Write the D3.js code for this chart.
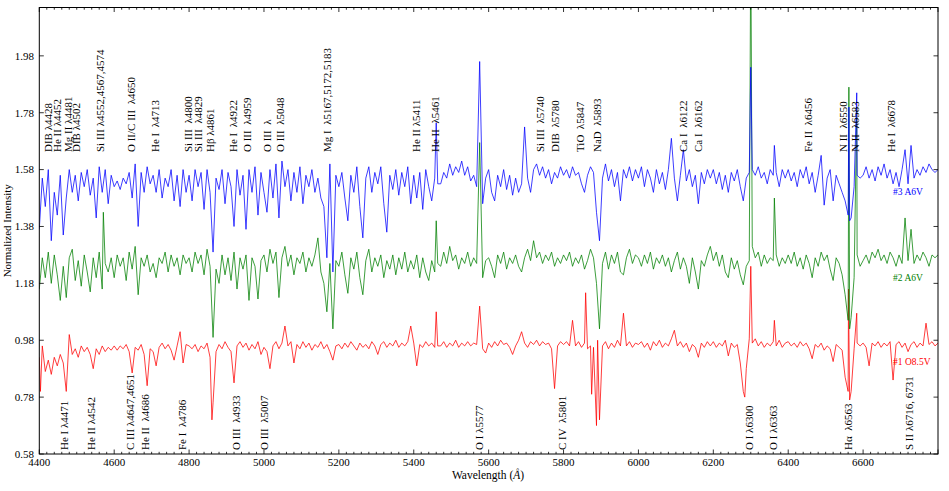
<!DOCTYPE html>
<html>
<head>
<meta charset="UTF-8">
<title>Spectra</title>
<script src="https://d3js.org/d3.v7.min.js"></script>
<style>
  body { margin: 0; background: #fff; }
  text { font-family: "Liberation Serif", "DejaVu Serif", serif; fill: #000; }
  .lbl { font-size: 11px; white-space: pre; }
  .tick { font-size: 11px; }
</style>
</head>
<body>
<svg id="plot" width="949" height="491"></svg>
<script>

// wavelength grid (Angstrom), 8 A sampling
const wavelength = d3.range(4400, 6801, 8);

// #3 A6V (blue)
const blueFlux = [
  1.37,1.55,1.45,1.58,1.33,1.50,1.42,1.56,1.35,1.48,1.58,1.50,1.56,1.47,1.57,1.52,1.58,1.49,1.55,1.41,1.59,1.50,1.58,1.46,1.56,
  1.52,1.54,1.51,1.55,1.53,1.57,1.48,1.60,1.38,1.57,1.50,1.59,1.53,1.56,1.50,1.58,1.48,1.55,1.52,1.58,1.47,1.56,1.45,1.58,1.50,
  1.56,1.47,1.58,1.52,1.57,1.44,1.58,1.50,1.29,1.55,1.51,1.58,1.46,1.57,1.52,1.38,1.58,1.49,1.56,1.37,1.58,1.50,1.59,1.42,1.57,
  1.50,1.43,1.58,1.48,1.60,1.41,1.61,1.52,1.58,1.47,1.57,1.50,1.59,1.46,1.56,1.52,1.58,1.50,1.55,1.48,1.45,1.27,1.60,1.22,1.56,
  1.52,1.57,1.48,1.40,1.56,1.50,1.59,1.45,1.34,1.55,1.59,1.50,1.57,1.53,1.59,1.46,1.36,1.56,1.51,1.58,1.49,1.57,1.52,1.59,1.46,
  1.56,1.48,1.57,1.44,1.58,1.52,1.47,1.55,1.53,1.53,1.57,1.55,1.60,1.56,1.59,1.57,1.61,1.56,1.59,1.54,1.56,1.52,1.96,1.46,1.55,
  1.58,1.50,1.47,1.56,1.52,1.58,1.51,1.56,1.49,1.55,1.50,1.53,1.73,1.55,1.50,1.58,1.60,1.56,1.59,1.55,1.58,1.53,1.57,1.55,1.59,
  1.56,1.58,1.55,1.59,1.56,1.57,1.53,1.50,1.56,1.59,1.57,1.43,1.33,1.55,1.60,1.54,1.58,1.52,1.57,1.47,1.58,1.55,1.59,1.54,1.58,
  1.55,1.59,1.52,1.58,1.55,1.50,1.58,1.53,1.57,1.51,1.58,1.69,1.55,1.47,1.56,1.65,1.54,1.58,1.52,1.56,1.46,1.57,1.53,1.58,1.55,
  1.58,1.53,1.57,1.51,1.56,1.50,1.57,1.54,1.58,1.52,1.47,1.55,1.57,1.58,1.56,1.59,1.55,1.57,1.53,1.58,1.56,1.57,1.52,1.58,1.55,
  1.58,1.54,1.57,1.52,1.58,1.55,1.59,1.53,1.57,1.50,1.56,1.63,1.455,1.55,1.58,1.47,1.56,1.53,1.50,1.47,1.42,1.41,1.52,1.56,1.55,
  1.56,1.59,1.55,1.58,1.54,1.59,1.56,1.60,1.55,1.58,1.53,1.57,1.52,1.58,1.65,1.53,1.665,1.55,1.58,1.56,1.59,1.57,1.60,1.58,1.57,
  1.58
];
// narrow features off the grid [wavelength, flux]
const blueLines = [[5460, 1.745], [6300, 1.94], [6363, 1.665], [6562, 1.80], [6564, 1.40], [6583, 1.85]];

// #2 A6V (green)
const greenFlux = [
  1.16,1.27,1.20,1.29,1.18,1.28,1.21,1.12,1.24,1.13,1.27,1.30,1.19,1.26,1.17,1.28,1.22,1.15,1.27,1.20,1.29,1.16,1.25,1.22,1.27,
  1.20,1.28,1.24,1.27,1.19,1.29,1.23,1.31,1.14,1.27,1.24,1.28,1.22,1.25,1.20,1.27,1.25,1.29,1.22,1.28,1.24,1.27,1.21,1.28,1.25,
  1.27,1.22,1.29,1.25,1.28,1.21,1.30,1.24,0.99,1.23,1.18,1.28,1.21,1.27,1.19,1.29,1.16,1.27,1.23,1.28,1.12,1.27,1.24,1.125,1.26,
  1.28,1.22,1.30,1.25,1.29,1.13,1.27,1.31,1.24,1.28,1.21,1.27,1.25,1.29,1.22,1.27,1.24,1.28,1.34,1.22,1.18,1.08,1.25,1.02,1.26,
  1.24,1.29,1.21,1.145,1.27,1.23,1.29,1.20,1.14,1.26,1.30,1.22,1.27,1.24,1.28,1.20,1.26,1.23,1.28,1.21,1.27,1.23,1.29,1.22,1.26,
  1.23,1.28,1.20,1.27,1.22,1.19,1.26,1.22,1.25,1.24,1.29,1.25,1.31,1.26,1.28,1.23,1.27,1.25,1.29,1.24,1.27,1.25,1.675,1.20,1.26,
  1.27,1.24,1.20,1.28,1.25,1.29,1.23,1.27,1.25,1.28,1.24,1.22,1.27,1.30,1.26,1.33,1.27,1.29,1.25,1.28,1.26,1.29,1.24,1.27,1.25,
  1.28,1.26,1.29,1.24,1.27,1.25,1.28,1.23,1.26,1.30,1.27,1.18,1.02,1.25,1.29,1.23,1.28,1.25,1.29,1.22,1.21,1.27,1.30,1.25,1.28,
  1.27,1.24,1.28,1.25,1.29,1.23,1.27,1.25,1.28,1.24,1.27,1.22,1.26,1.29,1.23,1.27,1.24,1.18,1.27,1.22,1.16,1.26,1.24,1.28,1.31,
  1.26,1.29,1.24,1.28,1.22,1.20,1.27,1.23,1.26,1.21,1.175,1.24,1.26,1.31,1.27,1.29,1.24,1.28,1.25,1.27,1.26,1.28,1.24,1.27,1.25,
  1.28,1.25,1.29,1.24,1.27,1.23,1.28,1.25,1.20,1.27,1.24,1.29,1.26,1.28,1.23,1.19,1.27,1.25,1.21,1.14,1.05,1.06,1.20,1.28,1.24,
  1.26,1.28,1.25,1.29,1.27,1.30,1.26,1.28,1.25,1.29,1.27,1.24,1.28,1.25,1.41,1.26,1.37,1.25,1.28,1.26,1.29,1.27,1.24,1.28,1.27,
  1.28
];
const greenLines = [[4571, 1.43], [5460, 1.40], [6300, 2.40], [6363, 1.48], [6562, 1.87], [6564, 1.02], [6583, 1.80]];

// #1 O8.5V (red)
const redFlux = [
  0.92,0.96,0.87,0.91,0.86,0.92,0.89,0.93,0.90,0.80,1.00,0.93,0.95,0.92,0.96,0.94,0.955,0.93,0.88,0.95,0.93,0.96,0.94,0.955,0.945,
  0.96,0.945,0.96,0.95,0.965,0.94,0.865,0.955,0.945,0.965,0.93,0.82,0.95,0.94,0.89,0.955,0.97,0.95,0.965,0.945,0.91,0.96,1.01,0.90,0.965,
  0.96,0.95,0.965,0.94,0.96,0.95,0.97,0.92,0.76,0.94,0.965,0.95,0.975,0.955,0.94,0.83,0.96,0.975,0.955,0.97,0.945,0.965,0.95,0.975,0.93,
  0.955,0.94,0.88,0.96,0.975,0.95,0.97,1.03,0.96,0.975,0.90,0.965,0.95,0.975,0.955,0.97,0.945,0.965,0.955,0.975,0.95,0.965,0.94,0.91,0.96,
  0.965,0.95,0.97,0.955,0.975,0.96,0.945,0.97,0.955,0.965,0.95,0.975,0.96,0.93,0.965,0.975,0.955,0.97,0.96,0.98,0.955,0.97,0.96,0.975,1.03,
  0.97,0.89,0.965,0.955,0.975,0.96,0.97,0.955,0.96,0.96,0.975,0.955,0.97,0.96,0.98,0.955,0.97,0.96,0.975,0.96,0.97,0.965,1.10,0.95,0.935,
  0.97,0.955,0.975,0.96,0.98,0.965,0.97,0.955,0.93,0.96,0.98,1.01,0.97,0.955,0.975,0.965,0.98,0.96,0.975,0.965,0.97,0.95,0.81,0.96,0.975,
  0.965,0.975,0.96,1.05,0.96,0.975,0.955,0.97,0.95,0.96,0.955,0.68,0.70,0.96,0.975,0.95,0.97,0.955,0.98,0.96,1.075,0.96,0.975,0.955,0.97,
  0.965,0.975,0.955,0.97,0.945,0.975,0.96,0.98,0.955,0.97,0.96,0.985,1.015,0.96,0.975,0.955,0.97,0.94,0.965,0.955,0.92,0.97,0.955,0.975,0.96,
  0.975,0.955,0.97,0.96,0.98,0.925,0.97,0.955,0.965,0.90,0.80,0.88,0.985,0.97,0.985,0.96,0.975,0.955,0.97,0.96,0.975,0.96,0.98,0.955,0.97,
  0.975,0.96,0.97,0.955,0.975,0.96,0.97,0.95,0.915,0.965,0.955,0.97,0.945,0.96,0.95,0.905,0.965,0.955,0.945,0.85,0.80,0.80,0.95,0.97,0.96,
  0.97,0.955,0.89,0.97,0.96,0.975,0.955,0.97,0.96,0.975,0.84,0.965,0.975,0.955,0.97,0.94,0.965,0.975,0.955,0.97,0.96,1.04,0.965,0.975,0.96,
  0.97
];
const redLines = [[4403, 0.80], [4861, 0.70], [5460, 1.08], [5859, 1.147], [5875, 0.79], [5891, 0.98],
                  [6284, 0.78], [6300, 1.24], [6363, 1.05], [6561, 1.16], [6564, 0.77], [6583, 1.075]];

const seriesNames = ["#1 O8.5V", "#2 A6V", "#3 A6V"];
const seriesColors = ["#ff0000", "#008000", "#0000ff"];

// line identifications
const topLabels = [
  ["DIB λ4428", 4428], ["He II λ4452", 4452], ["Mg II λ4481", 4481], ["DIB λ4502", 4502],
  ["Si III λ4552,4567,4574", 4565], ["O II/C III  λ4650", 4650], ["He I  λ4713", 4713],
  ["Si III  λ4800", 4800], ["Si III  λ4829", 4829], ["Hβ λ4861", 4861], ["He I  λ4922", 4922],
  ["O III  λ4959", 4959], ["O III  λ", 5012], ["O III  λ5048", 5048], ["Mg I  λ5167,5172,5183", 5172],
  ["He II λ5411", 5411], ["He II  λ5461", 5461], ["Si III  λ5740", 5740], ["DIB  λ5780", 5780],
  ["TiO  λ5847", 5847], ["NaD  λ5893", 5893], ["Ca I  λ6122", 6122], ["Ca I  λ6162", 6162],
  ["Fe II  λ6456", 6456], ["N II  λ6550", 6550], ["N II  λ6583", 6583], ["He I  λ6678", 6678]
];
const bottomLabels = [
  ["He I λ4471", 4471], ["He II λ4542", 4542], ["C III λ4647,4651", 4645], ["He II  λ4686", 4686],
  ["Fe I  λ4786", 4786], ["O III  λ4933", 4928], ["O III  λ5007", 5005], ["O I λ5577", 5577],
  ["C IV  λ5801", 5801], ["O I λ6300", 6300], ["O I λ6363", 6363], ["Hα  λ6563", 6563],
  ["S II λ6716, 6731", 6727]
];

const yTicks = [0.58, 0.78, 0.98, 1.18, 1.38, 1.58, 1.78, 1.98];
const xTicks = d3.range(4400, 6601, 200);

// layout
const W = 949, H = 491;
const pLeft = 39.3, pRight = 938, pTop = 7.5, pBottom = 454;

const x = d3.scaleLinear().domain([4400, 6800]).range([pLeft, pRight]);
const y = d3.scaleLinear().domain([0.58, 2.15]).range([pBottom, pTop]);

const svg = d3.select("#plot");
svg.append("rect").attr("width", W).attr("height", H).attr("fill", "#fff");

svg.append("defs").append("clipPath").attr("id", "clip")
  .append("rect").attr("x", pLeft).attr("y", pTop).attr("width", pRight - pLeft).attr("height", pBottom - pTop);

function buildSeries(flux, lines) {
  const pts = wavelength.map((w, i) => [w, flux[i]]).concat(lines);
  pts.sort((a, b) => a[0] - b[0]);
  return pts;
}

const line = d3.line().x(d => x(d[0])).y(d => y(d[1]));
const series = [buildSeries(redFlux, redLines), buildSeries(greenFlux, greenLines), buildSeries(blueFlux, blueLines)];

const gLines = svg.append("g").attr("clip-path", "url(#clip)");
series.forEach((s, i) => {
  gLines.append("path")
    .attr("d", line(s))
    .attr("fill", "none")
    .attr("stroke", seriesColors[i])
    .attr("stroke-width", 0.9)
    .attr("stroke-opacity", 0.85)
    .attr("stroke-linejoin", "round");
});

// frame
svg.append("rect")
  .attr("x", pLeft).attr("y", pTop).attr("width", pRight - pLeft).attr("height", pBottom - pTop)
  .attr("fill", "none").attr("stroke", "#000").attr("stroke-width", 1);

// ticks (inward)
const gt = svg.append("g").attr("stroke", "#000").attr("stroke-width", 0.8);
d3.range(4400, 6801, 20).forEach(v => {
  const major = v % 200 === 0;
  const len = major ? 4.5 : 2.2;
  gt.append("line").attr("x1", x(v)).attr("x2", x(v)).attr("y1", pBottom).attr("y2", pBottom - len);
  gt.append("line").attr("x1", x(v)).attr("x2", x(v)).attr("y1", pTop).attr("y2", pTop + len);
});
yTicks.forEach(v => {
  gt.append("line").attr("x1", pLeft).attr("x2", pLeft + 4.5).attr("y1", y(v)).attr("y2", y(v));
  gt.append("line").attr("x1", pRight).attr("x2", pRight - 4.5).attr("y1", y(v)).attr("y2", y(v));
});

svg.append("g").selectAll("text").data(xTicks).join("text")
  .attr("class", "tick")
  .attr("x", d => x(d)).attr("y", 466)
  .attr("text-anchor", "middle")
  .text(d => d);

svg.append("g").selectAll("text").data(yTicks).join("text")
  .attr("class", "tick")
  .attr("x", 34).attr("y", d => y(d) + 3.8)
  .attr("text-anchor", "end")
  .text(d => d.toFixed(2));

// axis titles
const xt = svg.append("text").attr("x", 488).attr("y", 479).attr("text-anchor", "middle")
  .attr("font-size", 11.5);
xt.append("tspan").text("Wavelength (");
xt.append("tspan").attr("font-style", "italic").text("Å");
xt.append("tspan").text(")");

svg.append("text")
  .attr("transform", "translate(11," + ((pTop + pBottom) / 2) + ") rotate(-90)")
  .attr("text-anchor", "middle").attr("font-size", 11)
  .text("Normalized Intensity");

// line labels
svg.append("g").selectAll("text").data(topLabels).join("text")
  .attr("class", "lbl")
  .attr("transform", d => "translate(" + (x(d[1]) + 2.5) + ",152) rotate(-90)")
  .text(d => d[0]);

svg.append("g").selectAll("text").data(bottomLabels).join("text")
  .attr("class", "lbl")
  .attr("transform", d => "translate(" + (x(d[1]) + 2.5) + ",450) rotate(-90)")
  .text(d => d[0]);

// series names at the right end
const nameFlux = [0.905, 1.20, 1.50];
seriesNames.forEach((n, i) => {
  svg.append("text")
    .attr("x", x(6680)).attr("y", y(nameFlux[i]) + 3)
    .attr("font-size", 9.5)
    .style("fill", seriesColors[i])
    .text(n);
});

</script>
</body>
</html>
